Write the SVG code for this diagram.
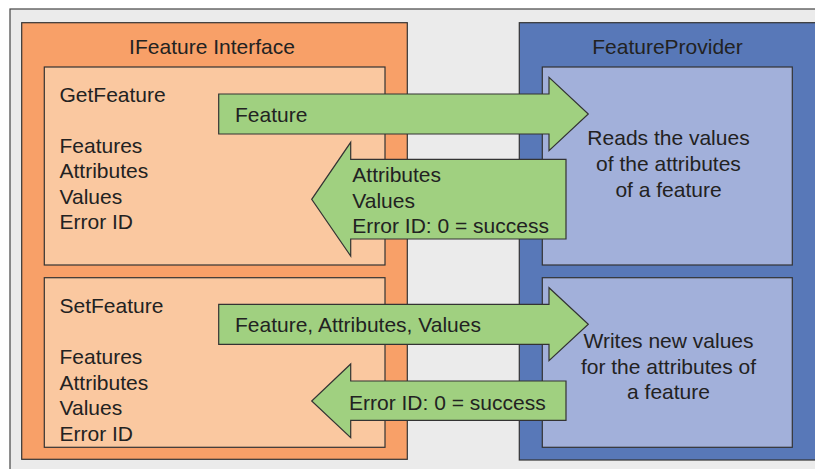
<svg xmlns="http://www.w3.org/2000/svg" width="815" height="469" viewBox="0 0 815 469">
<style>
.t{font-family:"Liberation Sans",Arial,sans-serif;font-size:21px;fill:#222}
.c{text-anchor:middle}
.box{stroke:#333;stroke-width:1.2}
.arr{fill:#A0D080;stroke:#333;stroke-width:1.2}
</style>
<rect x="0" y="0" width="815" height="469" fill="#fff"/>
<rect x="10" y="9" width="820" height="470" fill="#EBEBEB" stroke="#444" stroke-width="1.2"/>
<g id="ifeature">
<rect class="box" x="21.7" y="22.7" width="385.6" height="436.6" fill="#F8A068"/>
<text class="t c" x="212" y="53.5">IFeature Interface</text>
</g>
<g id="getfeature">
<rect class="box" x="44.3" y="67" width="340.7" height="198" fill="#FAC8A0"/>
<text class="t" x="59.5" y="101.7">GetFeature</text>
<text class="t" x="59.5" y="152.5">Features</text>
<text class="t" x="59.5" y="178">Attributes</text>
<text class="t" x="59.5" y="203.5">Values</text>
<text class="t" x="59.5" y="229">Error ID</text>
</g>
<g id="setfeature">
<rect class="box" x="44.3" y="277.7" width="340.7" height="169.6" fill="#FAC8A0"/>
<text class="t" x="59.5" y="313.3">SetFeature</text>
<text class="t" x="59.5" y="364">Features</text>
<text class="t" x="59.5" y="389.5">Attributes</text>
<text class="t" x="59.5" y="415">Values</text>
<text class="t" x="59.5" y="440.5">Error ID</text>
</g>
<g id="featureprovider">
<rect class="box" x="519.3" y="22.7" width="300" height="437.3" fill="#5878B8"/>
<text class="t c" x="667.5" y="53.5">FeatureProvider</text>
</g>
<g id="reads">
<rect class="box" x="542.3" y="67" width="250" height="198" fill="#A2B0DA"/>
<text class="t c" x="668.5" y="144.5">Reads the values</text>
<text class="t c" x="668.5" y="170.5">of the attributes</text>
<text class="t c" x="668.5" y="196.5">of a feature</text>
</g>
<g id="writes">
<rect class="box" x="542.3" y="277.7" width="250" height="169.6" fill="#A2B0DA"/>
<text class="t c" x="668.5" y="348.3">Writes new values</text>
<text class="t c" x="668.5" y="373.8">for the attributes of</text>
<text class="t c" x="668.5" y="399.3">a feature</text>
</g>
<g id="connectors">
<g id="arrow-get-request">
<polygon class="arr" points="218.7,94 549,94 549,77.3 588.3,114 549,150.7 549,134 218.7,134"/>
<text class="t" x="235" y="121.7">Feature</text>
</g>
<g id="arrow-get-response">
<polygon class="arr" points="566,159.3 350.7,159.3 350.7,142.3 311.7,199.3 350.7,256 350.7,239 566,239"/>
<text class="t" x="352.3" y="182.3">Attributes</text>
<text class="t" x="352.3" y="208">Values</text>
<text class="t" x="352.3" y="233.3">Error ID: 0 = success</text>
</g>
<g id="arrow-set-request">
<polygon class="arr" points="218.7,304.3 549,304.3 549,287.7 588.3,324.3 549,360.7 549,344.3 218.7,344.3"/>
<text class="t" x="235" y="331.7">Feature, Attributes, Values</text>
</g>
<g id="arrow-set-response">
<polygon class="arr" points="566,381 350.7,381 350.7,364 311.7,401 350.7,437.7 350.7,420.3 566,420.3"/>
<text class="t" x="349" y="410">Error ID: 0 = success</text>
</g>
</g>
</svg>
